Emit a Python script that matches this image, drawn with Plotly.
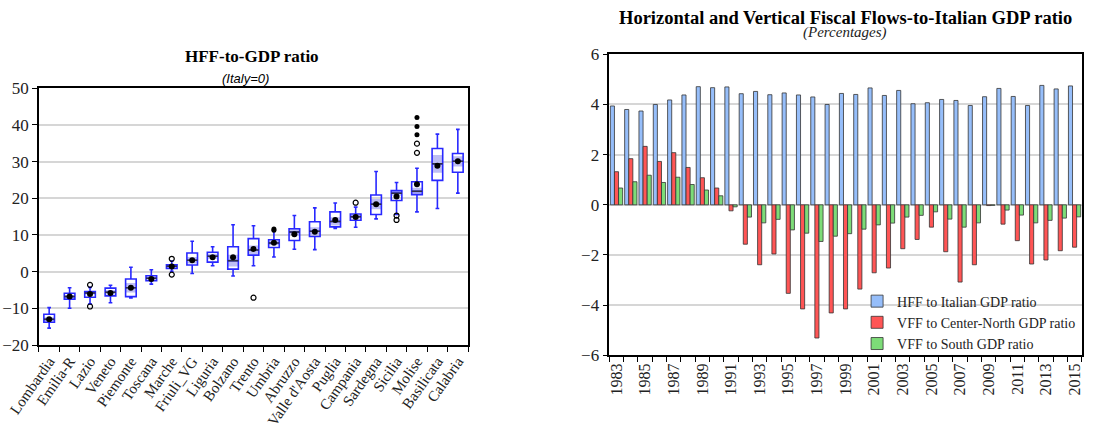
import plotly.graph_objects as go

# ---------------- Left chart data (HFF-to-GDP ratio, Italy=0) ----------------
regions = ["Lombardia", "Emilia-R", "Lazio", "Veneto", "Piemonte", "Toscana", "Marche",
           "Friuli_VG", "Liguria", "Bolzano", "Trento", "Umbria", "Abruzzo", "Valle d'Aosta",
           "Puglia", "Campania", "Sardegna", "Sicilia", "Molise", "Basilicata", "Calabria"]
whisker_low = [-15.4, -10.0, -8.8, -8.5, -7.2, -3.4, 0.1, -0.5, 1.6, -1.2, 1.6, 4.0, 6.1, 6.0,
               11.8, 12.1, 14.4, 15.6, 16.3, 17.2, 21.4]
q1 = [-13.8, -7.5, -7.0, -6.6, -6.8, -2.5, 0.9, 1.8, 2.6, 0.7, 4.5, 6.6, 8.5, 9.6,
      12.2, 14.0, 15.6, 19.4, 21.0, 24.9, 27.1]
median = [-13.0, -6.8, -5.8, -5.6, -4.4, -1.8, 1.5, 3.1, 4.2, 3.0, 5.9, 7.8, 10.8, 11.0,
          13.7, 15.0, 18.4, 21.4, 21.9, 29.4, 30.1]
q3 = [-11.6, -5.9, -5.4, -4.5, -2.0, -1.1, 1.9, 5.1, 5.3, 6.8, 9.0, 8.7, 11.7, 13.6,
      16.3, 15.7, 20.9, 22.1, 24.5, 33.6, 32.2]
whisker_high = [-9.8, -4.4, -4.3, -3.7, 1.2, 0.5, 2.9, 8.3, 6.8, 12.8, 12.5, 11.5, 15.3, 17.4,
                18.7, 17.6, 27.3, 24.3, 28.2, 37.5, 38.8]
mean = [-13.0, -6.8, -6.1, -5.8, -4.4, -2.0, 1.4, 3.1, 3.9, 3.9, 6.2, 7.9, 10.2, 10.9,
        14.1, 14.9, 18.4, 20.5, 23.8, 28.9, 30.1]
median_ci_low = [-13.6, -7.2, -6.2, -6.2, -5.7, -2.2, 1.2, 2.2, 3.5, 1.4, 4.7, 7.2, 9.9, 9.9,
                 12.6, 14.5, 17.0, 20.7, 21.0, 27.0, 28.7]
median_ci_high = [-12.4, -6.4, -5.4, -5.0, -3.1, -1.4, 1.8, 4.0, 4.9, 4.6, 7.1, 8.4, 11.7, 12.1,
                  14.8, 15.5, 19.8, 22.1, 22.9, 31.8, 31.5]
near_out_region = [2, 2, 6, 6, 10, 15, 17, 17, 18, 18]
near_out_value = [-3.6, -9.5, 3.5, -0.8, -7.1, 18.8, 15.3, 14.1, 34.9, 32.4]
far_out_region = [11, 11, 18, 18, 18]
far_out_value = [11.6, 11.3, 42.0, 39.6, 37.3]

# ---------------- Right chart data ----------------
years = list(range(1983, 2016))
hff_italy = [3.94, 3.80, 3.74, 4.00, 4.18, 4.38, 4.71, 4.67, 4.70, 4.43, 4.52, 4.39, 4.46,
             4.38, 4.30, 4.00, 4.44, 4.40, 4.66, 4.36, 4.56, 4.03, 4.07, 4.20, 4.16, 3.96,
             4.31, 4.64, 4.32, 3.96, 4.76, 4.62, 4.74]
vff_center_north = [1.32, 1.84, 2.33, 1.73, 2.08, 1.49, 1.08, 0.67, -0.24, -1.57, -2.39, -1.96,
                    -3.53, -4.15, -5.31, -4.31, -4.15, -3.36, -2.71, -2.52, -1.75, -1.38, -0.89,
                    -1.87, -3.08, -2.39, -0.03, -0.77, -1.43, -2.36, -2.20, -1.83, -1.69]
vff_south = [0.67, 0.92, 1.18, 0.89, 1.10, 0.81, 0.59, 0.36, -0.08, -0.49, -0.72, -0.58, -1.00,
             -1.13, -1.46, -1.25, -1.15, -0.97, -0.80, -0.73, -0.49, -0.42, -0.28, -0.57,
             -0.89, -0.72, -0.02, -0.21, -0.41, -0.72, -0.62, -0.53, -0.48]

SERIF = "Liberation Serif"
SANS = "Liberation Sans"
BLUE = "rgb(40,40,255)"
BAND = "rgb(190,190,244)"

pos = list(range(len(regions)))
fig = go.Figure()

# shaded median-confidence band
fig.add_trace(go.Box(x=pos, q1=median_ci_low, median=median, q3=median_ci_high,
                     lowerfence=median_ci_low, upperfence=median_ci_high,
                     width=0.5, whiskerwidth=0, fillcolor=BAND,
                     line=dict(color=BAND, width=0), boxpoints=False,
                     showlegend=False, hoverinfo="skip", xaxis="x", yaxis="y"))
# outer box + whiskers
fig.add_trace(go.Box(x=pos, q1=q1, median=median, q3=q3,
                     lowerfence=whisker_low, upperfence=whisker_high,
                     width=0.52, whiskerwidth=0.35, fillcolor="rgba(255,255,255,0)",
                     line=dict(color=BLUE, width=1.6), boxpoints=False,
                     showlegend=False, xaxis="x", yaxis="y"))
# median lines (dark)
mx, my = [], []
for i, m in zip(pos, median):
    mx += [i - 0.26, i + 0.26, None]
    my += [m, m, None]
fig.add_trace(go.Scatter(x=mx, y=my, mode="lines", line=dict(color="#303048", width=1.5),
                         showlegend=False, hoverinfo="skip", xaxis="x", yaxis="y"))
# means
fig.add_trace(go.Scatter(x=pos, y=mean, mode="markers",
                         marker=dict(color="black", size=6), showlegend=False,
                         xaxis="x", yaxis="y"))
# outliers
fig.add_trace(go.Scatter(x=near_out_region, y=near_out_value, mode="markers",
                         marker=dict(symbol="circle-open", color="black", size=5,
                                     line=dict(width=1.2)),
                         showlegend=False, xaxis="x", yaxis="y"))
fig.add_trace(go.Scatter(x=far_out_region, y=far_out_value, mode="markers",
                         marker=dict(color="black", size=5), showlegend=False,
                         xaxis="x", yaxis="y"))

# ---------------- Right chart bars ----------------
fig.add_trace(go.Bar(x=years, y=hff_italy, name="HFF to Italian GDP ratio",
                     marker=dict(color="rgb(150,190,250)", line=dict(color="#333333", width=0.8)),
                     xaxis="x2", yaxis="y2"))
fig.add_trace(go.Bar(x=years, y=vff_center_north, name="VFF to Center-North GDP ratio",
                     marker=dict(color="rgb(255,85,85)", line=dict(color="#333333", width=0.8)),
                     xaxis="x2", yaxis="y2"))
fig.add_trace(go.Bar(x=years, y=vff_south, name="VFF to South GDP ratio",
                     marker=dict(color="rgb(125,220,120)", line=dict(color="#333333", width=0.8)),
                     xaxis="x2", yaxis="y2"))

axis_common = dict(showline=True, linecolor="black", linewidth=1.5, mirror=True,
                   zeroline=False, automargin=False)

fig.update_layout(
    width=1116, height=423,
    margin=dict(l=0, r=0, t=0, b=0),
    paper_bgcolor="white", plot_bgcolor="white",
    boxmode="overlay", barmode="group", bargap=0.14, bargroupgap=0,
    xaxis=dict(domain=[0.0349, 0.4194], range=[-0.5, len(regions) - 0.5],
               tickmode="array", tickvals=pos, ticktext=regions, tickangle=-55,
               ticks="", showgrid=False,
               minor=dict(tick0=-0.5, dtick=1, ticks="outside", ticklen=5,
                          tickcolor="black", showgrid=False),
               tickfont=dict(family=SERIF, size=15, color="#222"), anchor="y",
               **axis_common),
    yaxis=dict(domain=[0.1844, 0.7913], range=[-20, 50], dtick=10,
               ticks="outside", ticklen=5, tickcolor="black",
               showgrid=True, gridcolor="#d6d6d6", gridwidth=1.5,
               tickfont=dict(family=SERIF, size=17, color="#222"), anchor="x",
               **axis_common),
    xaxis2=dict(domain=[0.546, 0.9693], range=[1982.5, 2015.5],
                tick0=1983, dtick=2, tickangle=-90, ticks="", showgrid=False,
                minor=dict(tick0=1982.5, dtick=1, ticks="outside", ticklen=5,
                           tickcolor="black", showgrid=False),
                tickfont=dict(family=SERIF, size=16, color="#222"), anchor="y2",
                **axis_common),
    yaxis2=dict(domain=[0.160, 0.8716], range=[-6, 6], dtick=2,
                ticks="outside", ticklen=5, tickcolor="black",
                showgrid=True, gridcolor="#d6d6d6", gridwidth=1.5,
                tickfont=dict(family=SERIF, size=17, color="#222"), anchor="x2",
                **axis_common),
    legend=dict(x=0.768, y=0.325, xanchor="left", yanchor="top",
                bgcolor="rgba(255,255,255,0)", font=dict(family=SERIF, size=14, color="#222"),
                tracegroupgap=0, itemwidth=30),
    annotations=[
        dict(text="<b>HFF-to-GDP ratio</b>", x=252 / 1116, y=1 - 57 / 423, xref="paper",
             yref="paper", xanchor="center", yanchor="middle", showarrow=False,
             font=dict(family=SERIF, size=17, color="black")),
        dict(text="<i>(Italy=0)</i>", x=245 / 1116, y=1 - 78 / 423, xref="paper",
             yref="paper", xanchor="center", yanchor="middle", showarrow=False,
             font=dict(family=SANS, size=13, color="black")),
        dict(text="<b>Horizontal and Vertical Fiscal Flows-to-Italian GDP ratio</b>",
             x=845 / 1116, y=1 - 18 / 423, xref="paper", yref="paper",
             xanchor="center", yanchor="middle", showarrow=False,
             font=dict(family=SERIF, size=18.5, color="black")),
        dict(text="<i>(Percentages)</i>", x=845 / 1116, y=1 - 32 / 423, xref="paper",
             yref="paper", xanchor="center", yanchor="middle", showarrow=False,
             font=dict(family=SERIF, size=15, color="#222")),
    ],
)

fig.write_html("out.html")
